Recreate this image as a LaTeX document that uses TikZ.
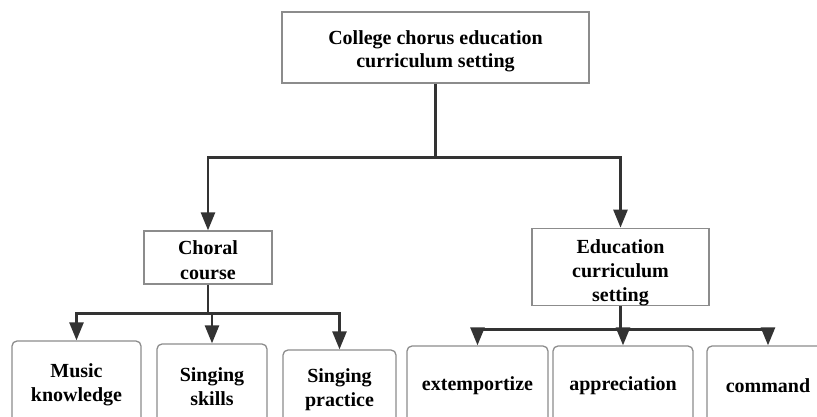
\documentclass[tikz,border=0pt]{standalone}
\usepackage{fontspec}
\setmainfont{Liberation Serif}
\usetikzlibrary{arrows.meta}
\definecolor{conncol}{HTML}{333333}
\definecolor{boxcol}{HTML}{8C8C8C}
\newcommand\tallstrut[1]{\rule{0pt}{#1}}
\tikzset{
  box/.style={draw=boxcol, line width=1.3pt, fill=white, inner sep=0pt, align=center,
    font=\fontsize{20}{23}\selectfont\bfseries, text=black},
  leaf/.style={box, rounded corners=5pt, font=\fontsize{20}{24}\selectfont\bfseries},
  conn/.style={draw=conncol, line width=2.6pt},
  arr/.style={conn, -{Triangle[width=14pt,length=18pt]}}
}
\begin{document}
\begin{tikzpicture}[x=1pt,y=-1pt]
\useasboundingbox (0,0) rectangle (817,416);
\begin{scope}
\clip (0,0) rectangle (817,416);
% nodes
\node[box, minimum width=307pt, minimum height=71pt] (top) at (435.5,47.5)
  {\tallstrut{21.5pt}College chorus education\\curriculum setting};
\node[box, minimum width=128pt, minimum height=53pt, font=\fontsize{20}{25}\selectfont\bfseries] (choral) at (208,257.5)
  {\tallstrut{19.5pt}Choral\\course};
\node[box, minimum width=177pt, minimum height=72pt, font=\fontsize{20}{24}\selectfont\bfseries] (edu) at (620.5,267)
  {\tallstrut{25pt}Education\\curriculum\\setting};
\node[leaf, minimum width=129pt, minimum height=88pt] (music) at (76.5,385)
  {Music\\knowledge};
\node[leaf, minimum width=110pt, minimum height=86pt] (skills) at (212,387)
  {Singing\\skills};
\node[leaf, minimum width=113pt, minimum height=80pt] (practice) at (339.5,390)
  {Singing\\practice};
\node[leaf, minimum width=141pt, minimum height=80pt] (ext) at (477.5,386)
  {extemportize};
\node[leaf, minimum width=140pt, minimum height=80pt] (app) at (623,386)
  {appreciation};
\node[leaf, minimum width=122pt, minimum height=80pt] (cmd) at (768,386)
  {command};
% connectors
\draw[conn] (top.south) -- ++(0,74) coordinate (tb);
\draw[arr] (tb) -| (choral.north);
\draw[arr] (tb) -| (edu.north);
\draw[conn] (choral.south) -- ++(0,29) coordinate (cb);
\draw[arr] (cb) -| (music.north);
\draw[arr] (cb) -| (practice.north);
\draw[arr] (cb -| skills.north) -- (skills.north);
\draw[conn] (edu.south) -- ++(0,23) coordinate (eb);
\draw[arr] (eb) -| (ext.north);
\draw[arr] (eb) -| (cmd.north);
\draw[arr] (eb -| app.north) -- (app.north);
\end{scope}
\end{tikzpicture}
\end{document}
